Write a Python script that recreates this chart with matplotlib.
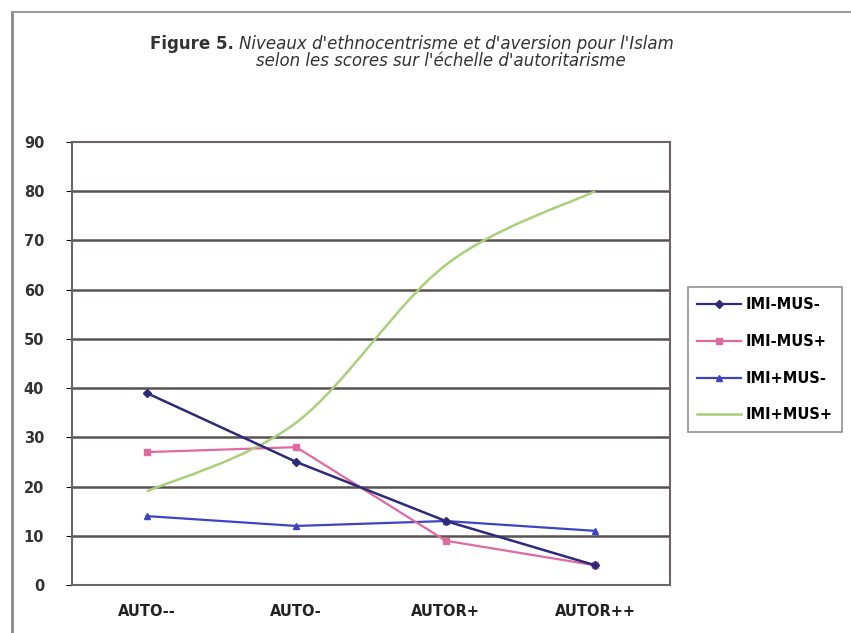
import numpy as np
import matplotlib
matplotlib.use('Agg')
import matplotlib.pyplot as plt
from matplotlib.path import Path
from matplotlib.patches import PathPatch
from matplotlib.lines import Line2D

categories = ['AUTO--', 'AUTO-', 'AUTOR+', 'AUTOR++']
imi_mus_m = [39, 25, 13, 4]
imi_mus_p = [27, 28, 9, 4]
imip_mus_m = [14, 12, 13, 11]
imip_mus_p = [19, 33, 65, 80]
labels = ['IMI-MUS-', 'IMI-MUS+', 'IMI+MUS-', 'IMI+MUS+']

def smooth_path(xs, ys):
    # catmull-rom style bezier, like excel smoothed lines
    pts = np.column_stack([xs, ys]).astype(float)
    verts = [pts[0]]
    codes = [Path.MOVETO]
    n = len(pts)
    for i in range(n - 1):
        p0 = pts[i - 1] if i > 0 else pts[i]
        p1 = pts[i]
        p2 = pts[i + 1]
        p3 = pts[i + 2] if i + 2 < n else pts[i + 1]
        c1 = p1 + (p2 - p0) / 6.0
        c2 = p2 - (p3 - p1) / 6.0
        verts += [c1, c2, p2]
        codes += [Path.CURVE4] * 3
    return Path(verts, codes)

fig = plt.figure(figsize=(8.51, 6.33), dpi=100)
ax = fig.add_axes([0.0846, 0.0758, 0.7027, 0.70])

x = np.arange(len(categories))
ax.set_xlim(-0.5, 3.5)
ax.set_ylim(0, 90)
ax.set_yticks(range(0, 91, 10))
for v in range(10, 90, 10):
    ax.axhline(v, color='#5a5252', lw=1.8, zorder=1)

ax.plot(x, imip_mus_m, color='#3b45c4', lw=1.6, marker='^', ms=5, zorder=3)
ax.plot(x, imi_mus_p, color='#e06aa0', lw=1.6, marker='s', ms=5, zorder=3)
ax.plot(x, imi_mus_m, color='#2e2a7a', lw=1.8, marker='D', ms=4.5, zorder=4)
ax.add_patch(PathPatch(smooth_path(x, imip_mus_p), facecolor='none',
                       edgecolor='#a9cf7a', lw=1.8, zorder=3))

ax.set_xticks(x)
ax.set_xticklabels(categories, fontweight='bold', fontsize=10.5, color='#222222')
ax.tick_params(axis='x', length=0, pad=14)
ax.tick_params(axis='y', length=4, pad=16, labelsize=10.5, labelcolor='#333333')
for t in ax.get_yticklabels():
    t.set_fontweight('bold')
for s in ax.spines.values():
    s.set_color('#6a6464')
    s.set_linewidth(1.5)

handles = [
    Line2D([], [], color='#2e2a7a', lw=1.6, marker='D', ms=4),
    Line2D([], [], color='#e06aa0', lw=1.6, marker='s', ms=4.5),
    Line2D([], [], color='#3b45c4', lw=1.6, marker='^', ms=5),
    Line2D([], [], color='#a9cf7a', lw=1.8),
]
leg = fig.legend(handles, labels, loc='upper left', bbox_to_anchor=(0.808, 0.546),
                 frameon=True, fancybox=False, handlelength=3.0,
                 labelspacing=1.5, borderpad=0.65, handletextpad=0.35,
                 borderaxespad=0.0, prop={'weight': 'bold', 'size': 10.5})
leg.get_frame().set_edgecolor('#777777')
leg.get_frame().set_linewidth(1.2)

fig.text(0.176, 0.923, 'Figure 5.', fontsize=12, fontweight='bold', color='#333333')
fig.text(0.281, 0.923, "Niveaux d'ethnocentrisme et d'aversion pour l'Islam",
         fontsize=12, style='italic', color='#333333')
fig.text(0.518, 0.895, "selon les scores sur l'échelle d'autoritarisme",
         fontsize=12, style='italic', color='#333333', ha='center')

# outer chart frame (left and top edges visible in the scan)
fig.add_artist(Line2D([0.014, 0.014], [0.0, 0.981], color='#8a8a8a', lw=2,
                      transform=fig.transFigure))
fig.add_artist(Line2D([0.014, 1.0], [0.981, 0.981], color='#9a9a9a', lw=1.5,
                      transform=fig.transFigure))

fig.savefig('out.png', dpi=100)
